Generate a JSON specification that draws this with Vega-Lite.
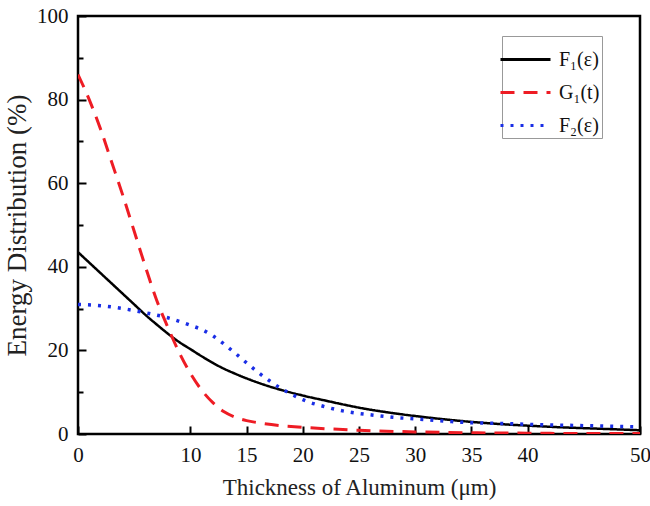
{
  "$schema": "https://vega.github.io/schema/vega-lite/v6.json",
  "autosize": "none",
  "width": 562,
  "height": 418,
  "padding": {"left": 78, "top": 16, "right": 10, "bottom": 72},
  "background": "white",
  "config": {
    "view": {"stroke": "black", "strokeWidth": 2.5},
    "font": "Liberation Serif"
  },
  "datasets": {
    "F1": [
      {"x": 0, "y": 43.5}, {"x": 1, "y": 41}, {"x": 2, "y": 38.5}, {"x": 3, "y": 36}, {"x": 4, "y": 33.5},
      {"x": 5, "y": 31}, {"x": 6, "y": 28.5}, {"x": 7, "y": 26.2}, {"x": 8, "y": 24}, {"x": 9, "y": 22},
      {"x": 10, "y": 20.3}, {"x": 11, "y": 18.6}, {"x": 12, "y": 17}, {"x": 13, "y": 15.6}, {"x": 14, "y": 14.4},
      {"x": 15, "y": 13.3}, {"x": 16, "y": 12.3}, {"x": 17, "y": 11.4}, {"x": 18, "y": 10.6}, {"x": 20, "y": 9.2},
      {"x": 22, "y": 8}, {"x": 25, "y": 6.3}, {"x": 28, "y": 5}, {"x": 30, "y": 4.3}, {"x": 33, "y": 3.4},
      {"x": 35, "y": 2.9}, {"x": 38, "y": 2.3}, {"x": 40, "y": 2}, {"x": 43, "y": 1.6}, {"x": 45, "y": 1.4},
      {"x": 48, "y": 1.1}, {"x": 50, "y": 0.9}
    ],
    "G1": [
      {"x": 0, "y": 86}, {"x": 1, "y": 80}, {"x": 2, "y": 73}, {"x": 3, "y": 65}, {"x": 4, "y": 57},
      {"x": 5, "y": 48.5}, {"x": 6, "y": 40}, {"x": 7, "y": 32}, {"x": 8, "y": 25.5}, {"x": 9, "y": 19.5},
      {"x": 10, "y": 14.5}, {"x": 11, "y": 10.5}, {"x": 12, "y": 7.5}, {"x": 13, "y": 5.3}, {"x": 14, "y": 4},
      {"x": 15, "y": 3.2}, {"x": 16, "y": 2.7}, {"x": 18, "y": 2}, {"x": 20, "y": 1.6}, {"x": 25, "y": 0.9},
      {"x": 30, "y": 0.5}, {"x": 35, "y": 0.3}, {"x": 40, "y": 0.2}, {"x": 45, "y": 0.1}, {"x": 50, "y": 0.1}
    ],
    "F2": [
      {"x": 0, "y": 31}, {"x": 2, "y": 30.7}, {"x": 4, "y": 30}, {"x": 6, "y": 29}, {"x": 8, "y": 27.8},
      {"x": 10, "y": 26}, {"x": 11, "y": 25}, {"x": 12, "y": 23.5}, {"x": 13, "y": 21.5}, {"x": 14, "y": 19.3},
      {"x": 15, "y": 17}, {"x": 16, "y": 14.8}, {"x": 17, "y": 12.8}, {"x": 18, "y": 11}, {"x": 19, "y": 9.5},
      {"x": 20, "y": 8.2}, {"x": 22, "y": 6.5}, {"x": 24, "y": 5.3}, {"x": 26, "y": 4.6}, {"x": 28, "y": 4},
      {"x": 30, "y": 3.6}, {"x": 33, "y": 3}, {"x": 35, "y": 2.7}, {"x": 38, "y": 2.5}, {"x": 40, "y": 2.3},
      {"x": 45, "y": 2}, {"x": 50, "y": 1.7}
    ]
  },
  "layer": [
    {
      "data": {"name": "F1"},
      "transform": [{"calculate": "'F₁(ε)'", "as": "series"}],
      "mark": {"type": "line", "strokeWidth": 2.5, "interpolate": "monotone", "clip": true},
      "encoding": {
        "x": {"field": "x", "type": "quantitative"},
        "y": {"field": "y", "type": "quantitative"},
        "color": {"field": "series", "type": "nominal"},
        "strokeDash": {"field": "series", "type": "nominal"}
      }
    },
    {
      "data": {"name": "G1"},
      "transform": [{"calculate": "'G₁(t)'", "as": "series"}],
      "mark": {"type": "line", "strokeWidth": 3, "interpolate": "monotone", "clip": true},
      "encoding": {
        "x": {"field": "x", "type": "quantitative"},
        "y": {"field": "y", "type": "quantitative"},
        "color": {"field": "series", "type": "nominal"},
        "strokeDash": {"field": "series", "type": "nominal"}
      }
    },
    {
      "data": {"name": "F2"},
      "transform": [{"calculate": "'F₂(ε)'", "as": "series"}],
      "mark": {"type": "line", "strokeWidth": 3.5, "interpolate": "monotone", "clip": true},
      "encoding": {
        "x": {
          "field": "x", "type": "quantitative",
          "scale": {"domain": [0, 50], "nice": false},
          "axis": {
            "values": [0, 10, 15, 20, 25, 30, 35, 40, 50],
            "title": "Thickness of Aluminum (μm)",
            "domain": false, "grid": false,
            "ticks": true, "tickColor": "black", "tickWidth": 2, "tickSize": -8,
            "labelFont": "Liberation Serif", "labelFontSize": 21, "labelColor": "#111", "labelPadding": 18,
            "labelFlush": false, "labelOverlap": false,
            "titleFont": "Liberation Serif", "titleFontSize": 23, "titleFontWeight": "normal", "titleColor": "#222", "titlePadding": 11
          }
        },
        "y": {
          "field": "y", "type": "quantitative",
          "scale": {"domain": [0, 100], "nice": false},
          "axis": {
            "values": [0, 10, 20, 30, 40, 50, 60, 70, 80, 90, 100],
            "labelExpr": "datum.value % 20 === 0 ? datum.label : ''",
            "title": "Energy Distribution (%)",
            "domain": false, "grid": false,
            "ticks": true, "tickColor": "black", "tickWidth": 2,
            "tickSize": {"condition": {"test": "datum.value % 20 === 0", "value": -8}, "value": -5},
            "labelFont": "Liberation Serif", "labelFontSize": 21, "labelColor": "#111", "labelPadding": 18,
            "labelFlush": false, "labelOverlap": false,
            "titleFont": "Liberation Serif", "titleFontSize": 27, "titleFontWeight": "normal", "titleColor": "#222", "titlePadding": 5
          }
        },
        "color": {
          "field": "series", "type": "nominal",
          "scale": {"domain": ["F₁(ε)", "G₁(t)", "F₂(ε)"], "range": ["#000000", "#ee1c24", "#1a2ee6"]},
          "legend": {
            "title": null, "orient": "none", "legendX": 424, "legendY": 20,
            "strokeColor": "#999", "fillColor": "white", "padding": 2,
            "symbolType": "M-1.25,0H1.25", "symbolSize": 1600, "symbolStrokeWidth": 3, "symbolFillColor": "transparent",
            "labelFont": "Liberation Serif", "labelFontSize": 20, "labelColor": "#111",
            "rowPadding": 1, "labelOffset": 12
          }
        },
        "strokeDash": {
          "field": "series", "type": "nominal",
          "scale": {"domain": ["F₁(ε)", "G₁(t)", "F₂(ε)"], "range": [[1, 0], [14, 9], [3, 7]]},
          "legend": null
        }
      }
    }
  ]
}
